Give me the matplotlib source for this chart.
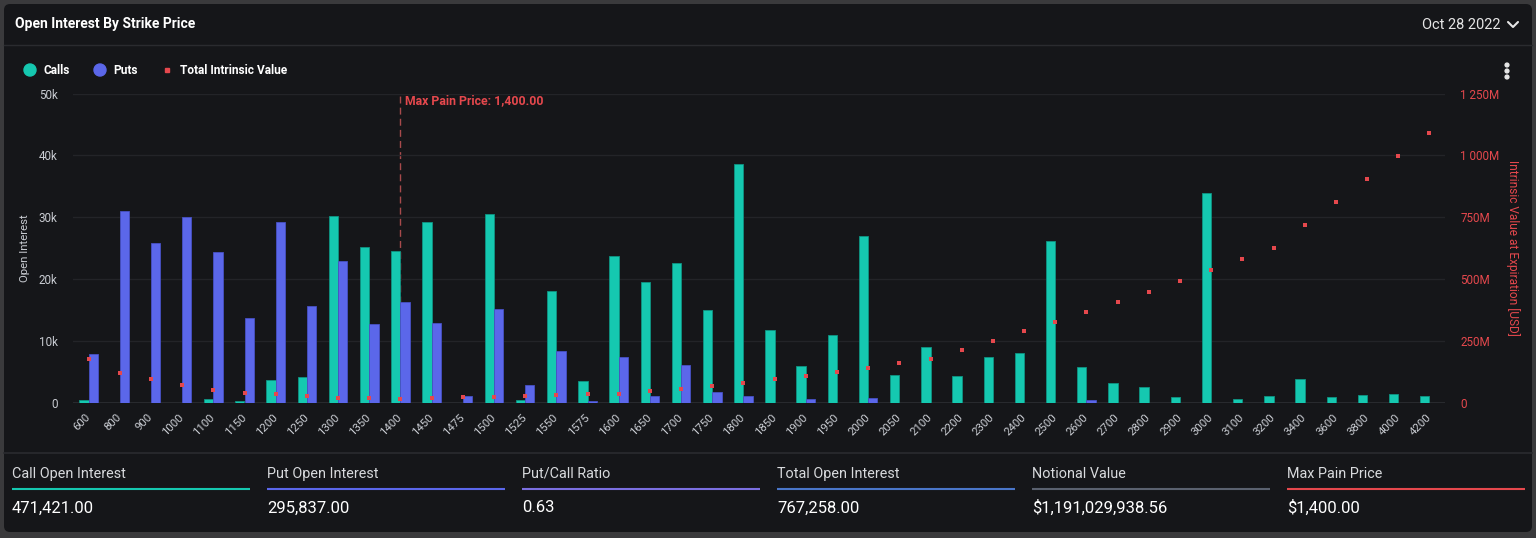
import matplotlib
matplotlib.use('Agg')
import matplotlib.pyplot as plt
import numpy as np
from matplotlib.patches import FancyBboxPatch, Circle, Rectangle
from matplotlib.ticker import FixedLocator

# ---------------- data ----------------
strikes = ['600', '800', '900', '1000', '1100', '1150', '1200', '1250', '1300', '1350',
           '1400', '1450', '1475', '1500', '1525', '1550', '1575', '1600', '1650', '1700',
           '1750', '1800', '1850', '1900', '1950', '2000', '2050', '2100', '2200', '2300',
           '2400', '2500', '2600', '2700', '2800', '2900', '3000', '3100', '3200', '3400',
           '3600', '3800', '4000', '4200']
calls = [540, 0, 0, 0, 700, 270, 3700, 4150, 30300, 25200,
         24600, 29300, 0, 30600, 540, 18100, 3500, 23700, 19600, 22600,
         15000, 38700, 11850, 5900, 11000, 27000, 4600, 9050, 4300, 7500,
         8100, 26200, 5800, 3300, 2650, 1000, 34000, 700, 1200, 3800,
         1000, 1350, 1500, 1200]
puts = [7900, 31100, 25900, 30000, 24400, 13700, 29300, 15700, 22900, 12700,
        16300, 12900, 1200, 15200, 2850, 8450, 380, 7500, 1200, 6100,
        1800, 1200, 0, 700, 0, 860, 0, 0, 0, 0,
        0, 0, 500, 0, 0, 0, 0, 0, 0, 0,
        0, 0, 0, 0]
intrinsic_musd = [178, 120, 96, 71, 51, 42, 35, 30, 22, 22,
                  17.5, 22, 23, 24, 28, 31, 35, 38, 47, 57,
                  69, 80, 96, 110, 125, 141, 162, 176, 214, 252,
                  290, 326, 368, 408, 450, 494, 536, 580, 626, 720,
                  811, 905, 997, 1091]
left_ticks = [0, 10000, 20000, 30000, 40000, 50000]
left_tick_labels = ['0', '10k', '20k', '30k', '40k', '50k']
right_ticks = [0, 250, 500, 750, 1000, 1250]
right_tick_labels = ['0', '250M', '500M', '750M', '1 000M', '1 250M']
max_pain_strike = '1400'
stat_labels = ['Call Open Interest', 'Put Open Interest', 'Put/Call Ratio',
               'Total Open Interest', 'Notional Value', 'Max Pain Price']
stat_values = ['471,421.00', '295,837.00', '0.63', '767,258.00',
               '$1,191,029,938.56', '$1,400.00']

# ---------------- style ----------------
plt.rcParams['font.family'] = ['Roboto', 'DejaVu Sans']
W, H = 1536, 538
BG_OUT = '#3a3a3c'
CARD = '#151619'
CALL_C = '#15c8b0'
PUT_C = '#5b67ea'
RED = '#e5484d'
GRID = '#232428'
TXT = '#c9ccd2'

fig = plt.figure(figsize=(W / 100, H / 100), dpi=100)
fig.patch.set_facecolor(BG_OUT)

# overlay axes in pixel coordinates (origin top-left)
ov = fig.add_axes([0, 0, 1, 1], zorder=0)
ov.set_xlim(0, W)
ov.set_ylim(H, 0)
ov.axis('off')

card = FancyBboxPatch((4, 4), 1528, 528, boxstyle='round,pad=0,rounding_size=6',
                      facecolor=CARD, edgecolor='none')
ov.add_patch(card)
ov.plot([4, 1532], [45, 45], color='#2a2b2f', lw=1)
ov.plot([4, 1532], [453, 453], color='#2a2b2f', lw=1.2)

ov.text(15, 24, 'Open Interest By Strike Price', color='white', fontsize=10,
        fontweight='bold', va='center', ha='left')
ov.text(1500, 25, 'Oct 28 2022', color='#e6e6e6', fontsize=10.5, va='center', ha='right')
ov.plot([1508, 1513, 1518], [22, 27, 22], color='#e6e6e6', lw=1.5,
        solid_capstyle='round', solid_joinstyle='round')
for yy in (65, 71, 77):
    ov.add_patch(Circle((1507, yy), 1.9, color='#e6e6e6'))

# legend
ov.add_patch(Circle((30, 70), 6, color=CALL_C))
ov.text(44, 70.5, 'Calls', color='white', fontsize=8.6, fontweight='bold', va='center')
ov.add_patch(Circle((100, 70), 6, color=PUT_C))
ov.text(113, 70.5, 'Puts', color='white', fontsize=8.6, fontweight='bold', va='center')
ov.add_patch(Rectangle((165, 68), 4, 4, color=RED))
ov.text(180, 70.5, 'Total Intrinsic Value', color='white', fontsize=8.6,
        fontweight='bold', va='center')

# stats panel
stat_x = [12, 267, 522, 777, 1032, 1287]
stat_colors = [CALL_C, PUT_C, '#7b6fe0', '#4a76c9', '#5a616f', RED]
for sx, lab, val, col in zip(stat_x, stat_labels, stat_values, stat_colors):
    ov.text(sx, 474, lab, color='#d8dadd', fontsize=10.4, va='center', ha='left')
    ov.plot([sx, sx + 238], [489, 489], color=col, lw=1.5, solid_capstyle='butt')
    ov.text(sx, 508, val, color='white', fontsize=12, va='center', ha='left')

# ---------------- main chart ----------------
ax = fig.add_axes([73 / W, (H - 403) / H, (1445 - 73) / W, 309.4 / H], zorder=2)
ax.set_facecolor('none')
x = np.arange(len(strikes))
bw = 0.3
ax.bar(x - bw / 2, calls, width=bw, color=CALL_C, edgecolor='#0f9483', linewidth=0.6, zorder=3)
ax.bar(x + bw / 2, puts, width=bw, color=PUT_C, edgecolor='#4750c4', linewidth=0.6, zorder=3)
ax.set_xlim(-0.5, len(strikes) - 0.5)
ax.set_ylim(0, 50000)
ax.yaxis.set_major_locator(FixedLocator(left_ticks))
ax.set_yticklabels(left_tick_labels)
ax.set_xticks(x)
ax.set_xticklabels(strikes, rotation=45, ha='right', va='center', rotation_mode='anchor')
ax.tick_params(axis='x', length=0, pad=9, labelsize=8.2, labelcolor=TXT)
ax.tick_params(axis='y', length=0, pad=11, labelsize=8.4, labelcolor=TXT)
for s in ax.spines.values():
    s.set_visible(False)
ax.grid(axis='y', color=GRID, lw=1, zorder=0)
ax.axhline(0, color='#2c2e33', lw=1.2, zorder=2)
ax.set_ylabel('Open Interest', color=TXT, fontsize=8.2, va='center')
ax.yaxis.set_label_coords(-(73 - 25) / 1372, 0.5)

mp = strikes.index(max_pain_strike)
ax.axvline(mp, color='#a84a4c', lw=1, linestyle=(0, (5, 3)), zorder=1)
ax.text(mp + 0.15, 48800, 'Max Pain Price: 1,400.00', color=RED, fontsize=8.8,
        fontweight='bold', va='center', ha='left', zorder=5)

ax2 = ax.twinx()
ax2.set_zorder(3)
ax2.set_facecolor('none')
ax2.scatter(x, intrinsic_musd, marker='s', s=12, color=RED, linewidths=0, zorder=4)
ax2.set_ylim(0, 1250)
ax2.yaxis.set_major_locator(FixedLocator(right_ticks))
ax2.set_yticklabels(right_tick_labels)
ax2.tick_params(axis='y', length=0, pad=11, labelsize=8.4, labelcolor=RED)
for s in ax2.spines.values():
    s.set_visible(False)
ax2.set_ylabel('Intrinsic Value at Expiration [USD]', color=RED, fontsize=8.6,
               rotation=-90, va='center')
ax2.yaxis.set_label_coords(1 + (1513 - 1445) / 1372, 0.5)

fig.savefig('out.png', dpi=100, facecolor=BG_OUT)
